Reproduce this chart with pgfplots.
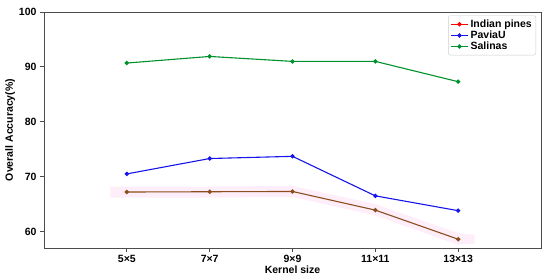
\documentclass[border=0pt]{standalone}
\usepackage{fontspec}
\setmainfont{Liberation Sans}
\usepackage{pgfplots}
\pgfplotsset{compat=1.18}
\definecolor{ipbrown}{RGB}{140,78,28}
\definecolor{sgreen}{RGB}{0,145,45}
\definecolor{pblue}{RGB}{20,20,235}
\definecolor{bandpink}{RGB}{254,238,250}
\begin{document}
\begin{tikzpicture}
\begin{axis}[
  scale only axis, width=497pt, height=236pt,
  xmin=-1, xmax=5, ymin=57, ymax=100,
  xtick={0,1,2,3,4},
  xticklabels={5×5,7×7,9×9,11×11,13×13},
  ytick={60,70,80,90,100},
  tick align=outside, tick pos=left,
  major tick length=4pt,
  axis line style={black!70, line width=0.9pt},
  every tick/.style={black!70, line width=0.8pt},
  tick label style={font=\fontsize{10.5}{12}\selectfont\bfseries},
  /pgf/number format/assume math mode=true,
  label style={font=\fontsize{10.5}{12}\selectfont\bfseries},
  xlabel={Kernel size}, ylabel={Overall Accuracy(\%)},
  xlabel style={yshift=4pt}, ylabel style={yshift=-3pt},
  legend style={at={(rel axis cs:0.99,0.985)}, anchor=north east,
    font=\fontsize{10.5}{12}\selectfont\bfseries, draw=black!20,
    rounded corners=2pt, row sep=-2pt, inner sep=2pt},
  legend cell align=left,
  every axis plot/.append style={line width=1.1pt, mark=*, mark size=1.6pt},
]
\addplot[draw=none, fill=bandpink, mark=none, forget plot] coordinates {
  (-0.2,68.2) (0,68.2) (1,68.2) (2,68.3) (3,65.0) (4,59.7) (4.2,59.4)
  (4.2,57.8) (4,57.6) (3,62.9) (2,66.3) (1,66.2) (0,66.2) (-0.2,66.2)} -- cycle;
\addlegendimage{red, line width=1.1pt, mark=*, mark size=1.6pt}
\addlegendentry{Indian pines}
\addplot[ipbrown, forget plot] coordinates {(0,67.2) (1,67.25) (2,67.3) (3,63.9) (4,58.6)};
\addplot[pblue] coordinates {(0,70.5) (1,73.3) (2,73.7) (3,66.5) (4,63.8)};
\addlegendentry{PaviaU}
\addplot[sgreen] coordinates {(0,90.7) (1,91.9) (2,91.0) (3,91.0) (4,87.3)};
\addlegendentry{Salinas}
\end{axis}
\pgfresetboundingbox
\path (current axis.south west) ++(-44pt,-31pt) rectangle ([shift={(9pt,12pt)}]current axis.north east);
\end{tikzpicture}
\end{document}
